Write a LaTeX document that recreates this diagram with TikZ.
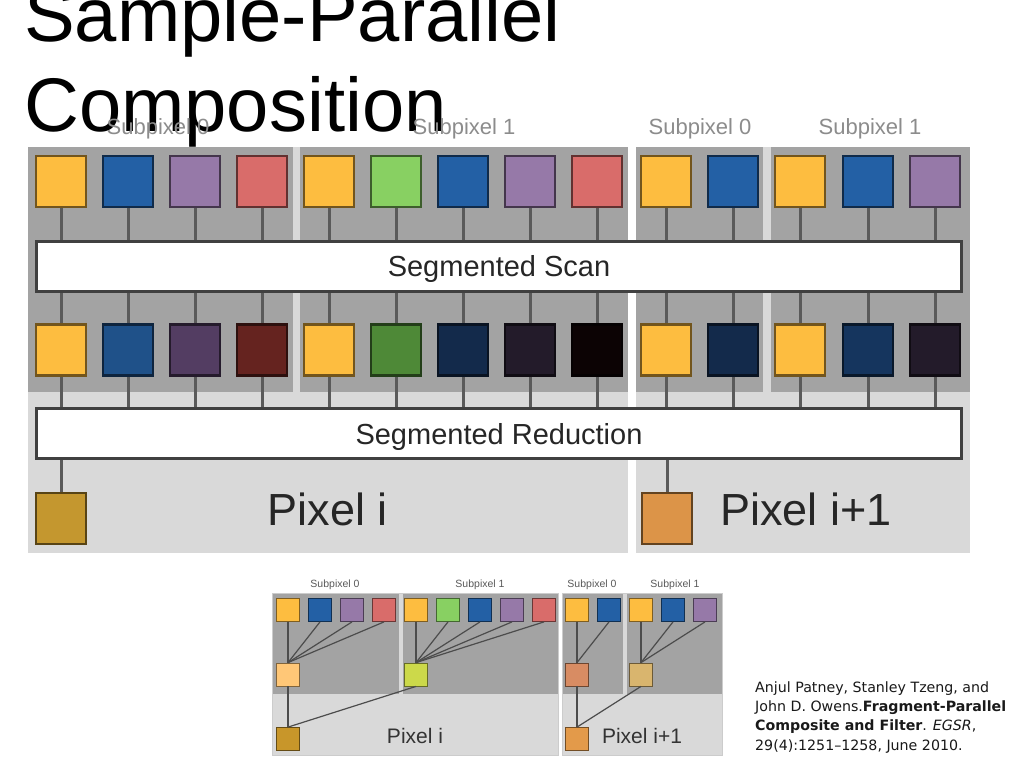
\documentclass[tikz,border=0pt]{standalone}
\usepackage{fontspec}
\setmainfont{Liberation Sans}
\newfontfamily\citefont{DejaVu Sans}
\definecolor{cY}{HTML}{FDBD40}
\definecolor{cB}{HTML}{2360A5}
\definecolor{cP}{HTML}{9679A8}
\definecolor{cR}{HTML}{D96C6A}
\definecolor{cG}{HTML}{88D062}
\definecolor{dB}{HTML}{1F5189}
\definecolor{dP}{HTML}{533D62}
\definecolor{dR}{HTML}{65231F}
\definecolor{dG}{HTML}{4E8937}
\definecolor{dN}{HTML}{132A4B}
\definecolor{dK}{HTML}{231B2A}
\definecolor{dX}{HTML}{0C0304}
\definecolor{dM}{HTML}{15355E}
\definecolor{pxA}{HTML}{C4972F}
\definecolor{pxB}{HTML}{DC9448}
\definecolor{smA}{HTML}{FFC777}
\definecolor{smB}{HTML}{CCD94A}
\definecolor{smC}{HTML}{D88C63}
\definecolor{smD}{HTML}{D9B56E}
\definecolor{sbA}{HTML}{C8962A}
\definecolor{sbB}{HTML}{E39A4A}
\definecolor{darkgray}{HTML}{A3A3A3}
\definecolor{lightgray}{HTML}{D9D9D9}
\definecolor{connc}{HTML}{5A5A5A}
\definecolor{labgray}{HTML}{8C8C8C}
\tikzset{
  sq/.style={draw=#1!45!black, fill=#1, line width=2.5pt, minimum width=50pt, minimum height=51pt, inner sep=0pt},
  ssq/.style={draw=#1!50!black, fill=#1, line width=0.8pt, minimum size=23pt, inner sep=0pt},
  bar/.style={draw=black!75, fill=white, line width=3pt, minimum width=925pt, minimum height=50pt, inner sep=0pt, text height=21pt, text depth=0pt, font=\fontsize{29}{32}\selectfont, text=black!85},
  conn/.style={draw=connc, line width=3pt},
  sconn/.style={draw=black!70, line width=1.2pt},
  sublab/.style={font=\fontsize{22}{24}\selectfont, text=labgray, anchor=base, inner sep=0pt},
  ssublab/.style={font=\fontsize{10.5}{12}\selectfont, text=black!65, anchor=base, inner sep=0pt},
  pixlab/.style={font=\fontsize{45}{50}\selectfont, text=black!85, anchor=base, inner sep=0pt},
  spixlab/.style={font=\fontsize{21}{24}\selectfont, text=black!80, anchor=base, inner sep=0pt},
  titlelab/.style={font=\fontsize{76}{90}\selectfont, text=black, anchor=base west, inner sep=0pt},
}
\begin{document}
\begin{tikzpicture}[x=1pt,y=-1pt]
\useasboundingbox[fill=white] (0,0) rectangle (1023,767);
% ---------- big diagram backgrounds ----------
\fill[lightgray] (28,147) rectangle (628,553);
\fill[lightgray] (636,147) rectangle (970,553);
\fill[darkgray] (28,147) rectangle (293,392);
\fill[darkgray] (300,147) rectangle (628,392);
\fill[darkgray] (636,147) rectangle (763,392);
\fill[darkgray] (771,147) rectangle (970,392);
% ---------- title ----------
\node[titlelab] (title1) at (24,42) {Sample-Parallel};
\node[titlelab] (title2) at (24,132) {Composition};
% ---------- subpixel labels ----------
\node[sublab] (sl1) at (158,135) {Subpixel 0};
\node[sublab] (sl2) at (464,135) {Subpixel 1};
\node[sublab] (sl3) at (700,135) {Subpixel 0};
\node[sublab] (sl4) at (870,135) {Subpixel 1};
% ---------- bars ----------
\node[bar] (scan) at (499,266.5) {Segmented Scan};
\node[bar] (red) at (499,433.5) {Segmented Reduction};
% ---------- top row ----------
\foreach \x/\c [count=\i] in {61/cY,128/cB,195/cP,262/cR,329/cY,396/cG,463/cB,530/cP,597/cR,666/cY,733/cB,800/cY,868/cB,935/cP}{
  \node[sq=\c] (t\i) at (\x,181.5) {};
  \draw[conn] (t\i.south) -- (t\i.south |- scan.north);
}
% ---------- second row ----------
\foreach \x/\c [count=\i] in {61/cY,128/dB,195/dP,262/dR,329/cY,396/dG,463/dN,530/dK,597/dX,666/cY,733/dN,800/cY,868/dM,935/dK}{
  \node[sq=\c] (m\i) at (\x,350) {};
  \draw[conn] (m\i.north) -- (m\i.north |- scan.south);
  \draw[conn] (m\i.south) -- (m\i.south |- red.north);
}
\node[bar] at (scan) {Segmented Scan};
\node[bar] at (red) {Segmented Reduction};
% ---------- pixel results ----------
\node[sq=pxA] (p1) at (61,518.5) {};
\node[sq=pxB] (p2) at (667,518.5) {};
\draw[conn] (p1.north) -- (p1.north |- red.south);
\draw[conn] (p2.north) -- (p2.north |- red.south);
\node[pixlab] (pl1) at (328,525) {Pixel i};
\node[pixlab] (pl2) at (806,525) {Pixel i+1};
% ---------- small diagram backgrounds ----------
\fill[lightgray] (272,593) rectangle (558,755);
\fill[lightgray] (562,593) rectangle (722,755);
\fill[darkgray] (272,593) rectangle (399,694);
\fill[darkgray] (403,593) rectangle (558,694);
\fill[darkgray] (562,593) rectangle (623,694);
\fill[darkgray] (627,593) rectangle (722,694);
\draw[black!20, line width=0.6pt] (272,593) rectangle (558,755);
\draw[black!20, line width=0.6pt] (562,593) rectangle (722,755);
\node[ssublab] (ssl1) at (335,587) {Subpixel 0};
\node[ssublab] (ssl2) at (480,587) {Subpixel 1};
\node[ssublab] (ssl3) at (592,587) {Subpixel 0};
\node[ssublab] (ssl4) at (675,587) {Subpixel 1};
% middle and bottom small squares
\node[ssq=smA] (sm1) at (288,674.5) {};
\node[ssq=smB] (sm2) at (416,674.5) {};
\node[ssq=smC] (sm3) at (577,674.5) {};
\node[ssq=smD] (sm4) at (641,674.5) {};
\node[ssq=sbA] (sb1) at (288,739) {};
\node[ssq=sbB] (sb2) at (577,739) {};
% small top row
\foreach \x/\c/\t [count=\i] in {288/cY/sm1,320/cB/sm1,352/cP/sm1,384/cR/sm1,416/cY/sm2,448/cG/sm2,480/cB/sm2,512/cP/sm2,544/cR/sm2,577/cY/sm3,609/cB/sm3,641/cY/sm4,673/cB/sm4,705/cP/sm4}{
  \node[ssq=\c] (st\i) at (\x,610) {};
  \draw[sconn] (st\i.south) -- (\t.north);
}
\draw[sconn] (sm1.south) -- (sb1.north);
\draw[sconn] (sm2.south) -- (sb1.north);
\draw[sconn] (sm3.south) -- (sb2.north);
\draw[sconn] (sm4.south) -- (sb2.north);
\node[spixlab] (spl1) at (415,743) {Pixel i};
\node[spixlab] (spl2) at (642,743) {Pixel i+1};
% ---------- citation ----------
\node[anchor=base west, inner sep=0pt, align=left, font=\citefont\fontsize{14.2}{19.3}\selectfont, text=black!90] (cite) at (755,750)
  {Anjul Patney, Stanley Tzeng, and\\John D. Owens.\textbf{Fragment-Parallel}\\\textbf{Composite and Filter}. \textit{EGSR},\\29(4):1251–1258, June 2010.};
\end{tikzpicture}
\end{document}
